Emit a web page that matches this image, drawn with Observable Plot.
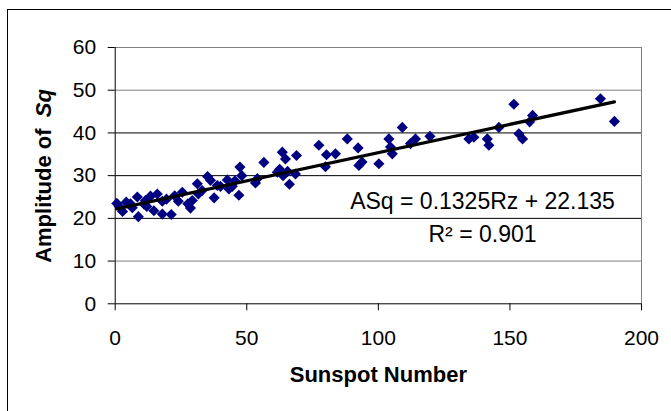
<!DOCTYPE html>
<html><head><meta charset="utf-8">
<script src="https://cdn.jsdelivr.net/npm/d3@7"></script>
<script src="https://cdn.jsdelivr.net/npm/@observablehq/plot@0.6"></script>
<style>
html,body{margin:0;padding:0;background:#fff;overflow:hidden;width:671px;height:411px}
#frame{position:absolute;left:7px;top:9px;width:800px;height:600px;border:1.5px solid #000;box-sizing:border-box;}
#chart{position:absolute;left:0;top:0}
</style></head><body>
<div id="frame"></div><div id="chart"></div>
<script>
// Sunspot number (Rz) and amplitude of Sq
const sunspot = [0.6,1.5,2.8,4.2,5.8,6.5,8.4,8.8,10.9,11.5,12.0,13.4,14.7,16.0,17.9,17.9,19.5,21.3,22.6,24.0,25.5,27.6,28.6,29.3,31.2,31.6,33.0,35.1,36.2,37.6,38.8,40.0,42.6,43.2,44.5,45.5,47.0,47.4,48.1,53.3,54.0,56.5,61.6,62.5,63.5,63.8,64.7,65.5,66.2,68.5,68.9,77.4,79.9,80.3,83.7,88.2,92.3,92.6,93.8,100.2,104.0,104.6,105.3,109.1,112.2,114.1,119.6,134.4,136.3,141.4,142.0,145.8,151.5,153.4,154.8,157.5,158.6,184.4,189.7];
const amplitude = [23.5,22.8,21.6,23.8,23.4,22.5,25.0,20.4,23.4,24.2,22.8,25.2,21.8,25.7,24.0,21.0,24.5,20.9,25.3,24.0,26.1,23.4,22.4,24.2,28.1,25.7,26.5,29.8,28.9,24.8,27.7,27.5,29.0,26.9,27.5,28.8,25.4,32.0,30.0,28.3,29.3,33.1,30.8,31.5,35.5,30.0,33.9,31.0,28.0,30.4,34.7,37.1,32.1,34.9,35.1,38.6,36.5,32.4,33.2,32.8,38.6,36.7,35.1,41.3,37.5,38.6,39.2,38.6,39.0,38.6,37.1,41.3,46.7,39.8,38.6,42.6,44.1,48.0,42.7];
const slope = 0.1325, intercept = 22.135, r2 = 0.901;
const xTicks = [0, 50, 100, 150, 200];
const yTicks = [0, 10, 20, 30, 40, 50, 60];
const gridGray = [10, 50];
const gridBlack = [20, 30, 40];
const xTitle = "Sunspot Number";
const eqText = `ASq = ${slope}Rz + ${intercept}`;
const r2Text = `R² = ${r2}`;

const points = sunspot.map((x, i) => ({x, y: amplitude[i]}));
const trend = d3.extent(sunspot).map(x => ({x, y: slope * x + intercept}));

const font = "'Liberation Sans', Arial, sans-serif";
const chart = Plot.plot({
  width: 671, height: 411,
  marginLeft: 114.7, marginRight: 30, marginTop: 47, marginBottom: 107.7,
  style: {fontFamily: font, fontSize: "21px", background: "transparent", color: "#000"},
  x: {domain: [0, 200], ticks: xTicks},
  y: {domain: [0, 60], ticks: yTicks},
  marks: [
    Plot.ruleY(gridGray, {stroke: "#808080"}),
    Plot.ruleY(gridBlack, {stroke: "#000"}),
    Plot.ruleY([60], {stroke: "#808080"}),
    Plot.ruleX([200], {stroke: "#808080"}),
    Plot.axisX({ticks: xTicks, tickSize: 7, tickPadding: 19, label: null, fontSize: 21}),
    Plot.axisY({ticks: yTicks, tickSize: 7, tickPadding: 12, label: null, fontSize: 21}),
    Plot.ruleX([0], {stroke: "#000"}),
    Plot.ruleY([0], {stroke: "#000"}),
    Plot.dot(points, {x: "x", y: "y", symbol: "diamond2", r: 5, fill: "#000080", stroke: "none"}),
    Plot.line(trend, {x: "x", y: "y", stroke: "#000", strokeWidth: 3.2}),
    Plot.text([eqText], {frameAnchor: "top-left", dx: 367.3, dy: 161.5, textAnchor: "middle", lineAnchor: "bottom", fontSize: 23, fill: "#000"}),
    Plot.text([r2Text], {frameAnchor: "top-left", dx: 367.3, dy: 194.7, textAnchor: "middle", lineAnchor: "bottom", fontSize: 23, fill: "#000"}),
    Plot.text([xTitle], {frameAnchor: "bottom", dy: 78, lineAnchor: "bottom", fontSize: 22, fontWeight: "bold", fill: "#000"})
  ]
});
const svg = d3.select(chart);
const yt = svg.append("text")
  .attr("transform", "translate(51,176) rotate(-90)")
  .attr("text-anchor", "middle")
  .attr("font-family", font).attr("font-size", 22).attr("font-weight", "bold").attr("fill", "#000");
yt.append("tspan").text("Amplitude of ");
yt.append("tspan").attr("font-style", "italic").attr("dx", 5).text("Sq");
document.getElementById("chart").appendChild(chart);
</script>
</body></html>
